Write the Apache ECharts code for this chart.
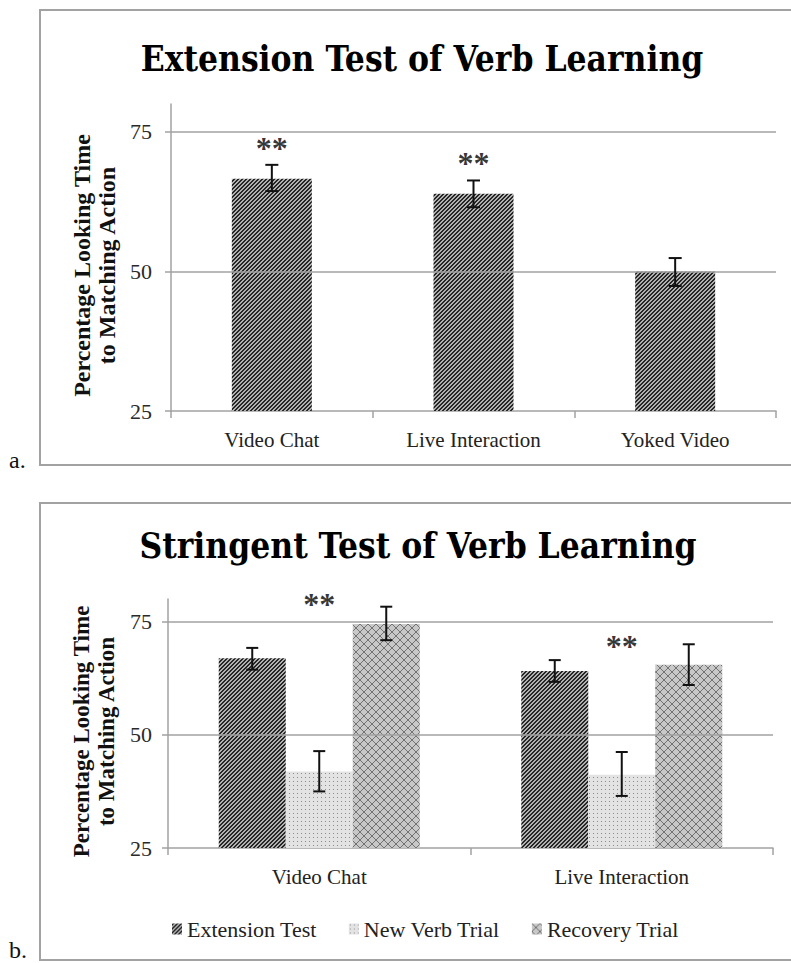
<!DOCTYPE html>
<html>
<head>
<meta charset="utf-8">
<script src="https://cdn.jsdelivr.net/npm/echarts@6/dist/echarts.min.js"></script>
<style>
html,body{margin:0;padding:0;background:#fff;}
#c{width:791px;height:963px;}
</style>
</head>
<body>
<div id="c"></div>
<script>
// ---------- data ----------
const titleA = 'Extension Test of Verb Learning';
const titleB = 'Stringent Test of Verb Learning';
const yAxisName = 'Percentage Looking Time\nto Matching Action';
const yTicks = [25, 50, 75];

const categoriesA = ['Video Chat', 'Live Interaction', 'Yoked Video'];
const meanA = [66.6, 63.9, 50.0];
const lowA = [64.4, 61.5, 47.4];
const highA = [69.1, 66.3, 52.4];
const starA = [72.9, 70.2, null];

const categoriesB = ['Video Chat', 'Live Interaction'];
const seriesNamesB = ['Extension Test', 'New Verb Trial', 'Recovery Trial'];
const extB = [66.9, 64.1];
const extLowB = [64.4, 61.7];
const extHighB = [69.2, 66.5];
const newB = [41.9, 41.2];
const newLowB = [37.5, 36.5];
const newHighB = [46.4, 46.2];
const recB = [74.5, 65.5];
const recLowB = [70.9, 61.0];
const recHighB = [78.3, 70.0];
const starB = [79.8, 70.6];

// ---------- patterns ----------
function tile(w, h, draw) {
  const c = document.createElement('canvas');
  c.width = w; c.height = h;
  draw(c.getContext('2d'));
  return c;
}
const patExt = tile(4, 4, ctx => {
  ctx.fillStyle = '#b0b0b0'; ctx.fillRect(0, 0, 4, 4);
  ctx.fillStyle = '#262626';
  for (let x = 0; x < 4; x++) for (let y = 0; y < 4; y++) if ((x + y) % 4 < 2) ctx.fillRect(x, y, 1, 1);
});
const patNew = tile(4, 4, ctx => {
  ctx.fillStyle = '#e3e3e3'; ctx.fillRect(0, 0, 4, 4);
  ctx.fillStyle = '#8c8c8c'; ctx.fillRect(1, 1, 1, 1);
});
const patRec = tile(8, 8, ctx => {
  ctx.fillStyle = '#c8c8c8'; ctx.fillRect(0, 0, 8, 8);
  ctx.fillStyle = '#727272';
  for (let i = 0; i < 8; i++) { ctx.fillRect(i, i, 1, 1); ctx.fillRect(i, 7 - i, 1, 1); }
});
const fillExt = { image: patExt, repeat: 'repeat' };
const fillNew = { image: patNew, repeat: 'repeat' };
const fillRec = { image: patRec, repeat: 'repeat' };

// ---------- styles ----------
const SERIF = '"Liberation Serif", "DejaVu Serif", serif';
const GRID_GREY = '#a2a2a2';
const BAR_W_A = 80;
const BAR_W_B = 67;

function errData(lo, hi) { return lo.map((v, i) => [i, v, hi[i]]); }
function errSeries(idx, data, offset, cap) {
  return {
    type: 'custom', xAxisIndex: idx, yAxisIndex: idx, z: 5, silent: true,
    encode: { x: 0, y: [1, 2] },
    data: data,
    renderItem: function (params, api) {
      const pLo = api.coord([api.value(0), api.value(1)]);
      const pHi = api.coord([api.value(0), api.value(2)]);
      const x = pLo[0] + offset;
      const st = { stroke: '#111', lineWidth: 2 };
      return {
        type: 'group', children: [
          { type: 'line', shape: { x1: x, y1: pLo[1], x2: x, y2: pHi[1] }, style: st },
          { type: 'line', shape: { x1: x - cap / 2, y1: pLo[1], x2: x + cap / 2, y2: pLo[1] }, style: st },
          { type: 'line', shape: { x1: x - cap / 2, y1: pHi[1], x2: x + cap / 2, y2: pHi[1] }, style: st }
        ]
      };
    }
  };
}
function starSeries(idx, vals) {
  return {
    type: 'scatter', xAxisIndex: idx, yAxisIndex: idx, z: 6, silent: true,
    symbolSize: 2, itemStyle: { color: 'rgba(0,0,0,0)' },
    data: vals.map((v, i) => v == null ? null : [i, v]).filter(d => d),
    label: {
      show: true, position: 'inside', formatter: '**', offset: [0, 4],
      fontFamily: SERIF, fontSize: 32, fontWeight: 'bold', color: '#000'
    }
  };
}
function gridLines() {
  return {
    silent: true, symbol: ['none', 'none'], label: { show: false },
    lineStyle: { color: GRID_GREY, width: 1.5, type: 'solid' },
    data: [{ yAxis: 50 }, { yAxis: 75 }]
  };
}
function yAxisCfg(idx, labelMargin, nameGap, nameSize) {
  return {
    gridIndex: idx, type: 'value', min: 25, max: 80, interval: 25,
    axisLine: { show: true, lineStyle: { color: GRID_GREY, width: 1.5 } },
    axisTick: { show: true, length: 6, customValues: yTicks, lineStyle: { color: GRID_GREY, width: 1.5 } },
    axisLabel: { customValues: yTicks, margin: labelMargin, fontFamily: SERIF, fontSize: 22, color: '#2a2a2a' },
    splitLine: { show: false },
    name: yAxisName, nameLocation: 'middle', nameRotate: 90, nameGap: nameGap,
    nameTextStyle: { fontFamily: SERIF, fontWeight: 'bold', fontSize: nameSize, lineHeight: 25, color: '#111',
      padding: [0, 16, 0, 0] }
  };
}
function xAxisCfg(idx, cats) {
  return {
    gridIndex: idx, type: 'category', data: cats,
    axisLine: { show: true, lineStyle: { color: GRID_GREY, width: 1.5 } },
    axisTick: { show: true, length: 7, lineStyle: { color: GRID_GREY, width: 1.5 } },
    axisLabel: { margin: 18, fontFamily: SERIF, fontSize: 21, color: '#222' }
  };
}

const chart = echarts.init(document.getElementById('c'), null, { renderer: 'svg' });
chart.setOption({
  animation: false,
  backgroundColor: '#fff',
  title: [
    { text: titleA, left: 422, top: 41, textAlign: 'center', padding: 0,
      textStyle: { fontFamily: '"DejaVu Serif Condensed", ' + SERIF, fontWeight: 'bold', fontSize: 35, color: '#000' } },
    { text: titleB, left: 418, top: 528, textAlign: 'center', padding: 0,
      textStyle: { fontFamily: '"DejaVu Serif Condensed", ' + SERIF, fontWeight: 'bold', fontSize: 35, color: '#000' } }
  ],
  graphic: [
    { type: 'rect', shape: { x: 40, y: 10, width: 790, height: 455 }, style: { fill: 'none', stroke: GRID_GREY, lineWidth: 2 }, silent: true },
    { type: 'rect', shape: { x: 40, y: 503, width: 790, height: 457 }, style: { fill: 'none', stroke: GRID_GREY, lineWidth: 2 }, silent: true },
    { type: 'text', x: 9, y: 460, style: { text: 'a.', fontFamily: SERIF, fontSize: 24, fill: '#111', verticalAlign: 'middle' } },
    { type: 'text', x: 9, y: 950, style: { text: 'b.', fontFamily: SERIF, fontSize: 24, fill: '#111', verticalAlign: 'middle' } }
  ],
  legend: {
    data: seriesNamesB, left: 167, top: 913, itemWidth: 10, itemHeight: 11, itemGap: 32,
    icon: 'rect', selectedMode: false,
    textStyle: { fontFamily: SERIF, fontSize: 22, color: '#222' }
  },
  grid: [
    { left: 171, top: 104, width: 605, height: 307 },
    { left: 168, top: 599, width: 605, height: 249 }
  ],
  xAxis: [xAxisCfg(0, categoriesA), xAxisCfg(1, categoriesB)],
  yAxis: [yAxisCfg(0, 19, 47, 24), yAxisCfg(1, 16, 47, 23)],
  series: [
    { name: 'Extension Test', type: 'bar', xAxisIndex: 0, yAxisIndex: 0, barWidth: BAR_W_A,
      data: meanA, itemStyle: { color: fillExt }, markLine: gridLines(), z: 2 },
    errSeries(0, errData(lowA, highA), 0, 13),
    starSeries(0, starA),

    { name: seriesNamesB[0], type: 'bar', xAxisIndex: 1, yAxisIndex: 1, barWidth: BAR_W_B, barGap: '0%',
      data: extB, itemStyle: { color: fillExt }, markLine: gridLines(), z: 2 },
    { name: seriesNamesB[1], type: 'bar', xAxisIndex: 1, yAxisIndex: 1, barWidth: BAR_W_B, barGap: '0%',
      data: newB, itemStyle: { color: fillNew }, z: 2 },
    { name: seriesNamesB[2], type: 'bar', xAxisIndex: 1, yAxisIndex: 1, barWidth: BAR_W_B, barGap: '0%',
      data: recB, itemStyle: { color: fillRec }, z: 2 },
    errSeries(1, errData(extLowB, extHighB), -BAR_W_B, 12),
    errSeries(1, errData(newLowB, newHighB), 0, 12),
    errSeries(1, errData(recLowB, recHighB), BAR_W_B, 12),
    starSeries(1, starB)
  ]
});
</script>
</body>
</html>
